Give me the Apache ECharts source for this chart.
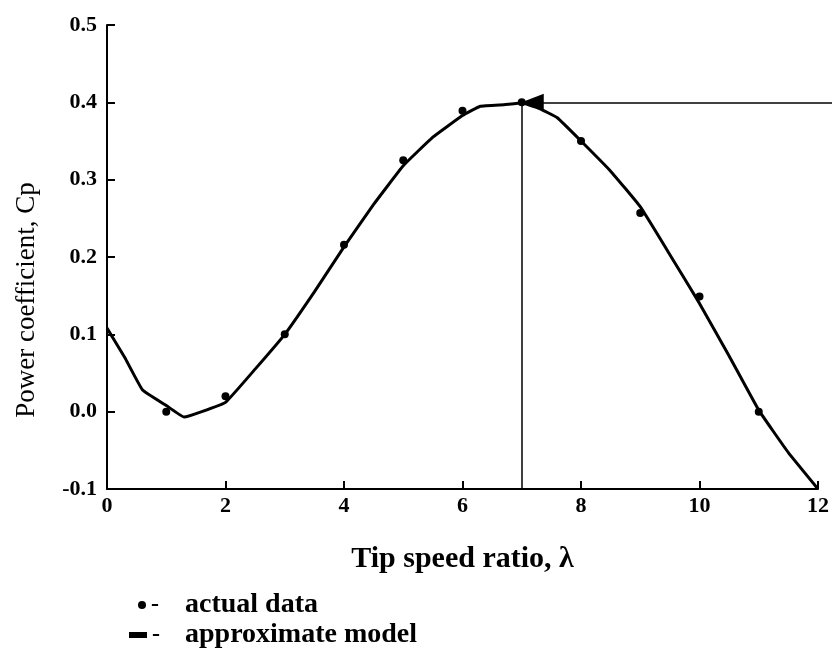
<!DOCTYPE html>
<html>
<head>
<meta charset="utf-8">
<script src="https://cdn.jsdelivr.net/npm/echarts@6/dist/echarts.min.js"></script>
<style>
  html, body { margin: 0; padding: 0; background: #fff; }
  #chart { width: 832px; height: 650px; }
</style>
</head>
<body>
<div id="chart"></div>
<script>
// ---- data ----
const xTicks = [0, 2, 4, 6, 8, 10, 12];
const yTicks = [-0.1, 0.0, 0.1, 0.2, 0.3, 0.4, 0.5];

// approximate model curve (tip speed ratio, Cp)
const modelX = [0, 0.3, 0.6, 1.0, 1.3, 1.6, 2.0, 2.5, 3.0, 3.5, 4.0, 4.5, 5.0, 5.5, 6.0, 6.3, 6.7, 7.0, 7.3, 7.6, 8.0, 8.5, 9.0, 9.5, 10.0, 10.5, 11.0, 11.5, 12.0];
const modelY = [0.108, 0.07, 0.028, 0.008, -0.007, 0.0, 0.012, 0.055, 0.100, 0.155, 0.213, 0.268, 0.318, 0.355, 0.383, 0.395, 0.397, 0.399, 0.392, 0.380, 0.350, 0.311, 0.265, 0.203, 0.140, 0.072, 0.002, -0.053, -0.100];

// actual data points
const actualX = [1, 2, 3, 4, 5, 6, 7, 8, 9, 10, 11];
const actualY = [0.0, 0.02, 0.10, 0.216, 0.325, 0.389, 0.40, 0.35, 0.257, 0.149, 0.0];

// optimum point marked by the arrow
const optX = 7;
const optY = 0.40;

const seriesNames = ['actual data', 'approximate model'];
const xTitle = 'Tip speed ratio, λ';
const yTitle = 'Power coefficient, Cp';

// ---- chart ----
const FONT = '"Liberation Serif", "Times New Roman", serif';
const chart = echarts.init(document.getElementById('chart'), null, { renderer: 'canvas' });

const modelData = modelX.map((x, i) => [x, modelY[i]]);
const actualData = actualX.map((x, i) => [x, actualY[i]]);

function legendBlock(name, icon, left, top, iw, ih, dashW) {
  return {
    orient: 'vertical',
    left: left,
    top: top,
    padding: 0,
    itemWidth: iw,
    itemHeight: ih,
    selectedMode: false,
    textStyle: {
      fontFamily: FONT, fontWeight: 'bold', fontSize: 28, color: '#000',
      rich: { d: { width: dashW, fontFamily: FONT, fontWeight: 'bold', fontSize: 24, color: '#000' } }
    },
    formatter: n => '{d|-}' + n,
    data: [{ name: name, icon: icon, itemStyle: { color: '#000', opacity: 1 } }]
  };
}

chart.setOption({
  backgroundColor: '#ffffff',
  animation: false,
  grid: { left: 107, right: 11, top: 25, bottom: 161, containLabel: false },
  xAxis: {
    type: 'value',
    min: xTicks[0],
    max: xTicks[xTicks.length - 1],
    interval: 2,
    name: xTitle,
    nameLocation: 'middle',
    nameGap: 55,
    nameTextStyle: { fontFamily: FONT, fontWeight: 'bold', fontSize: 30, color: '#000' },
    axisLine: { onZero: false, lineStyle: { color: '#000', width: 2 } },
    axisTick: { inside: true, length: 8, lineStyle: { color: '#000', width: 2 } },
    axisLabel: { fontFamily: FONT, fontWeight: 'bold', fontSize: 22, color: '#000', margin: 6 },
    splitLine: { show: false }
  },
  yAxis: {
    type: 'value',
    min: yTicks[0],
    max: yTicks[yTicks.length - 1],
    interval: 0.1,
    axisLine: { show: true, onZero: false, lineStyle: { color: '#000', width: 2 } },
    axisTick: { show: true, inside: true, length: 8, lineStyle: { color: '#000', width: 2 } },
    axisLabel: {
      fontFamily: FONT, fontWeight: 'bold', fontSize: 22, color: '#000', margin: 10,
      formatter: v => (Math.abs(v) < 1e-9 ? '0.0' : v.toFixed(1))
    },
    splitLine: { show: false }
  },
  legend: [
    legendBlock(seriesNames[0], 'circle', 138, 591, 8, 8, 34),
    legendBlock(seriesNames[1], 'rect', 129, 621, 18, 6, 33)
  ],
  graphic: [{
    type: 'text',
    x: 27,
    y: 300,
    rotation: Math.PI / 2,
    style: {
      text: yTitle,
      font: 'normal 27px ' + FONT,
      fill: '#000',
      align: 'center',
      verticalAlign: 'middle'
    }
  }],
  series: [
    {
      name: seriesNames[1],
      type: 'line',
      data: modelData,
      smooth: 0.1,
      showSymbol: false,
      lineStyle: { color: '#000', width: 3 },
      itemStyle: { color: '#000' },
      z: 2,
      markLine: {
        silent: true,
        symbol: ['none', 'none'],
        label: { show: false },
        lineStyle: { color: '#000', width: 1.5, type: 'solid' },
        data: [
          [
            { coord: [optX, optY], symbol: 'triangle', symbolSize: [17, 22], symbolOffset: [0, 11] },
            { coord: [xTicks[xTicks.length - 1], optY], x: '100%', symbol: 'none' }
          ],
          [
            { coord: [optX, optY], symbol: 'none' },
            { coord: [optX, yTicks[0]], symbol: 'none' }
          ]
        ]
      }
    },
    {
      name: seriesNames[0],
      type: 'scatter',
      data: actualData,
      symbol: 'circle',
      symbolSize: 8,
      itemStyle: { color: '#000', opacity: 1 },
      z: 3
    }
  ]
});
</script>
</body>
</html>
